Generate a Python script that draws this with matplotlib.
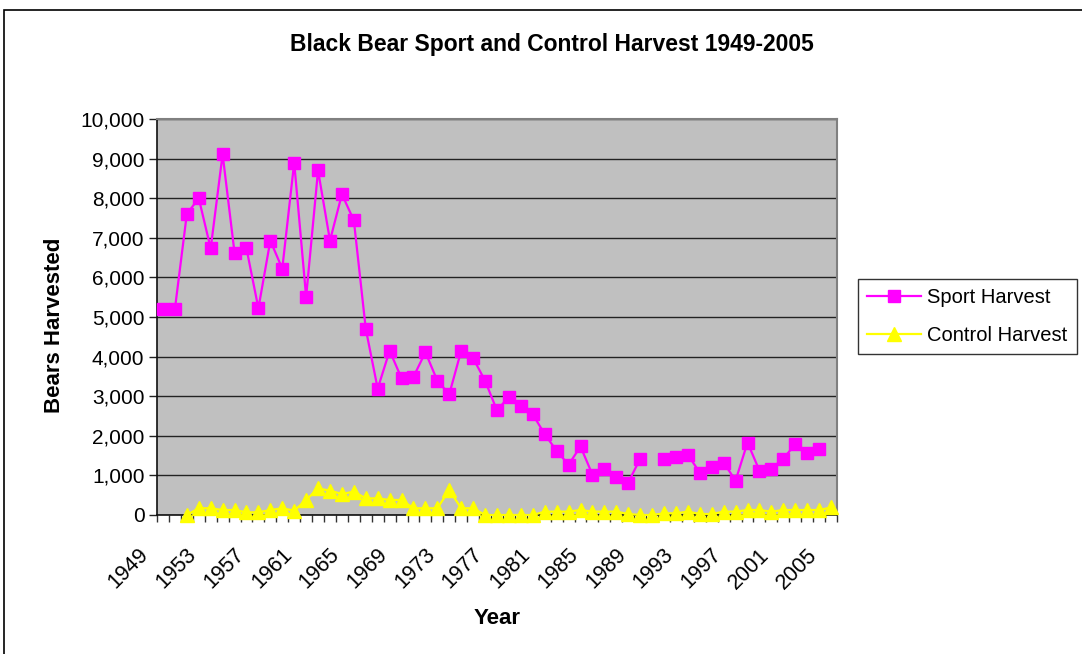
import numpy as np
import matplotlib.pyplot as plt
from matplotlib.patches import Rectangle
from matplotlib.ticker import FuncFormatter, MultipleLocator
from matplotlib.transforms import ScaledTranslation

plt.rcParams["font.family"] = ["Liberation Sans", "DejaVu Sans"]

# harvest by year, 1949-2005 (nan = no report)
years = list(range(1949, 2006))
sport_harvest = [
    5200, 5200, 7600, 8000, 6730, 9110, 6620, 6730, 5220, 6930,
    6220, 8900, 5510, 8700, 6930, 8100, 7440, 4700, 3190, 4150,
    3450, 3490, 4110, 3390, 3050, 4150, 3960, 3390, 2640, 2990,
    2750, 2540, 2040, 1620, 1270, 1730, 1020, 1170, 970, 820,
    1420, np.nan, 1420, 1470, 1520, 1070, 1220, 1320, 870, 1830,
    1120, 1170, 1420, 1790, 1570, 1670, np.nan,
]
control_harvest = [
    np.nan, np.nan, 0, 170, 170, 126, 126, 67, 67, 126,
    170, 110, 380, 670, 615, 530, 590, 420, 420, 380,
    380, 170, 170, 170, 630, 170, 170, 0, 0, 0,
    0, 0, 85, 85, 85, 126, 85, 85, 85, 25,
    0, 0, 42, 42, 85, 25, 25, 85, 85, 126,
    126, 85, 126, 126, 126, 126, 190,
]

fig = plt.figure(figsize=(10.82, 6.54), dpi=100)
ax = fig.add_axes([157 / 1082, 1 - 515 / 654, 680 / 1082, 396 / 654])

# outer chart border
fig.patches.append(Rectangle((4 / 1082, -0.1), 1.2, 1 - 10 / 654 + 0.1,
                             transform=fig.transFigure, fill=False,
                             edgecolor="black", linewidth=1.2))

x = np.arange(len(years))
ax.plot(x, sport_harvest, color="#FF00FF", linewidth=1.6, marker="s",
        markersize=8.5, label="Sport Harvest", zorder=3, clip_on=False)
ax.plot(x, control_harvest, color="#FFFF00", linewidth=1.6, marker="^",
        markersize=10, label="Control Harvest", zorder=4, clip_on=False)

ax.set_facecolor("#C0C0C0")
ax.set_xlim(-0.5, len(years) - 0.5)
ax.set_ylim(0, 10000)

ax.yaxis.set_major_locator(MultipleLocator(1000))
ax.yaxis.set_major_formatter(FuncFormatter(lambda v, p: f"{int(v):,}"))
ax.grid(axis="y", color="#222222", linewidth=1.0)
ax.set_axisbelow(True)
ax.tick_params(axis="y", direction="out", length=6, width=1, colors="#222222",
               labelsize=15, labelcolor="black", pad=3)

# year labels every 4 years, tick marks between categories
ax.set_xticks(x[::4])
ax.set_xticklabels([str(y) for y in years[::4]], rotation=45, ha="right",
                   va="top", fontsize=15.5)
ax.set_xticks(np.arange(-0.5, len(years), 1), minor=True)
ax.tick_params(axis="x", which="major", length=0, pad=21)
ax.tick_params(axis="x", which="minor", direction="out", length=5, width=1,
               color="#333333")
shift = ScaledTranslation(-0.10, 0, fig.dpi_scale_trans)
for lab in ax.get_xticklabels():
    lab.set_transform(lab.get_transform() + shift)

for side in ["top", "right"]:
    ax.spines[side].set_color("#808080")
    ax.spines[side].set_linewidth(1.5)
for side in ["left", "bottom"]:
    ax.spines[side].set_color("#111111")
    ax.spines[side].set_linewidth(1.2)

fig.text(552 / 1082, 1 - 45 / 654, "Black Bear Sport and Control Harvest 1949-2005",
         ha="center", va="center", fontsize=16.5, fontweight="bold")
fig.text(55 / 1082, 1 - 325 / 654, "Bears Harvested", rotation=90,
         ha="center", va="center", fontsize=16, fontweight="bold")
fig.text(497 / 1082, 1 - 618 / 654, "Year", ha="center", va="center",
         fontsize=16, fontweight="bold")

leg = fig.legend(loc="upper left", bbox_to_anchor=(858 / 1082, 1 - 279 / 654),
                 fontsize=14.5, frameon=True, fancybox=False, handlelength=2.7,
                 borderpad=0.45, labelspacing=0.95, handletextpad=0.3,
                 borderaxespad=0)
leg.get_frame().set_edgecolor("black")
leg.get_frame().set_linewidth(1.0)

fig.savefig("out.png", dpi=100)
